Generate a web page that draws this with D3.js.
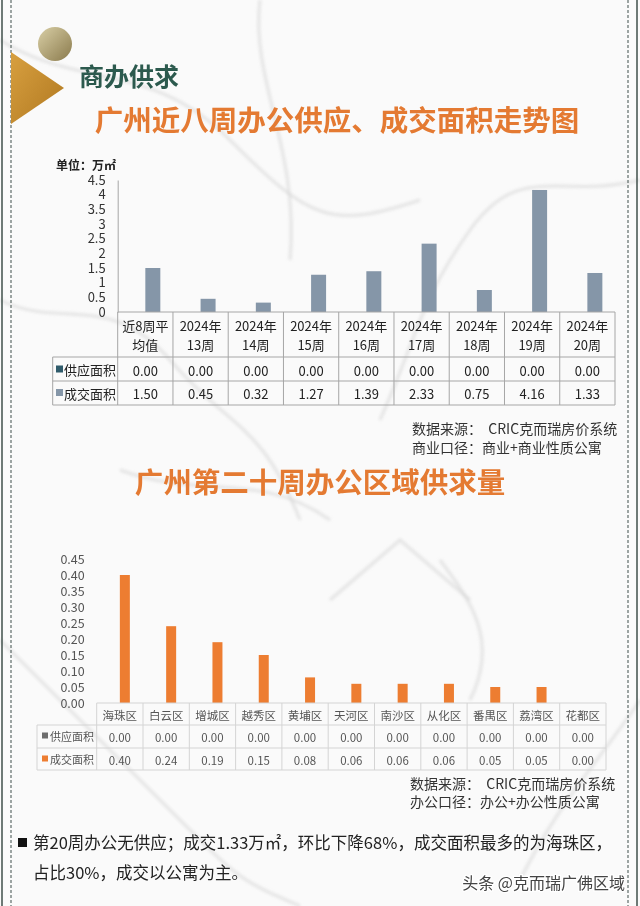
<!DOCTYPE html>
<html>
<head>
<meta charset="utf-8">
<script src="https://cdn.jsdelivr.net/npm/d3@7"></script>
<style>
  body { margin: 0; background: #fff; }
  svg { display: block; font-family: "Noto Sans CJK SC", "Noto Sans", sans-serif; }
</style>
</head>
<body>
<svg id="page" width="640" height="906"></svg>
<script>
// ---- data: weekly office supply / transaction (万㎡)
const weekLabels = [["近8周平", "均值"], ["2024年", "13周"], ["2024年", "14周"], ["2024年", "15周"],
  ["2024年", "16周"], ["2024年", "17周"], ["2024年", "18周"], ["2024年", "19周"], ["2024年", "20周"]];
const weekSupply = [0, 0, 0, 0, 0, 0, 0, 0, 0];
const weekDeal = [1.50, 0.45, 0.32, 1.27, 1.39, 2.33, 0.75, 4.16, 1.33];
const weekTicks = [0, 0.5, 1, 1.5, 2, 2.5, 3, 3.5, 4, 4.5];

// ---- data: week 20 by district (万㎡)
const districts = ["海珠区", "白云区", "增城区", "越秀区", "黄埔区", "天河区", "南沙区", "从化区", "番禺区", "荔湾区", "花都区"];
const districtSupply = [0, 0, 0, 0, 0, 0, 0, 0, 0, 0, 0];
const districtDeal = [0.40, 0.24, 0.19, 0.15, 0.08, 0.06, 0.06, 0.06, 0.05, 0.05, 0.00];
const districtTicks = [0, 0.05, 0.10, 0.15, 0.20, 0.25, 0.30, 0.35, 0.40, 0.45];

const seriesNames = ["供应面积", "成交面积"];

const svg = d3.select("#page");
const defs = svg.append("defs");

// background, a rough marble look
svg.append("rect").attr("width", 640).attr("height", 906).attr("fill", "#fafafa");
defs.append("filter").attr("id", "soft").append("feGaussianBlur").attr("stdDeviation", 1.6);
const veins = [
  "M0,40 C80,90 150,60 230,140 S330,230 420,200",
  "M260,0 C250,80 300,150 290,260",
  "M640,180 C560,200 520,160 470,230 S420,330 380,420",
  "M0,300 C60,330 110,290 170,360 S260,420 300,520",
  "M440,560 C470,600 500,640 470,700",
  "M330,600 L400,540 L470,600",
  "M0,640 C60,700 120,760 180,820 S240,880 300,906",
  "M640,700 C600,760 560,800 520,880",
  "M120,470 C200,500 260,470 330,520"
];
svg.append("g").attr("filter", "url(#soft)").selectAll("path").data(veins).join("path")
  .attr("d", d => d).attr("fill", "none")
  .attr("stroke", "#cfcfcf").attr("stroke-width", 3).attr("opacity", 0.5);

// page border
const border = svg.append("g").attr("stroke", "#3f4f4a");
border.append("line").attr("x1", 2).attr("x2", 2).attr("y1", 0).attr("y2", 906).attr("stroke-width", 1.5);
border.append("line").attr("x1", 637).attr("x2", 637).attr("y1", 0).attr("y2", 906).attr("stroke-width", 1.5);
border.append("line").attr("x1", 11).attr("x2", 11).attr("y1", 0).attr("y2", 906).attr("stroke-dasharray", "3,2");
border.append("line").attr("x1", 628).attr("x2", 628).attr("y1", 0).attr("y2", 906).attr("stroke-dasharray", "3,2");

// header decoration
const gold = defs.append("linearGradient").attr("id", "gold").attr("x1", 0).attr("y1", 0).attr("x2", 1).attr("y2", 1);
gold.append("stop").attr("offset", 0).attr("stop-color", "#d9cfa6");
gold.append("stop").attr("offset", 1).attr("stop-color", "#8a7a4c");
const tri = defs.append("linearGradient").attr("id", "tri").attr("x1", 0).attr("y1", 0).attr("x2", 1).attr("y2", 1);
tri.append("stop").attr("offset", 0).attr("stop-color", "#d8a040");
tri.append("stop").attr("offset", 1).attr("stop-color", "#b07820");
svg.append("circle").attr("cx", 55).attr("cy", 44).attr("r", 17).attr("fill", "url(#gold)");
svg.append("path").attr("d", "M11,52 L64,88 L11,124 Z").attr("fill", "url(#tri)");

svg.append("text").attr("x", 79).attr("y", 75).attr("dominant-baseline", "central")
  .attr("font-size", 25).attr("font-weight", "bold").attr("fill", "#2c5a4e").text("商办供求");

const title = (x, y, t) => svg.append("text").attr("x", x).attr("y", y).attr("text-anchor", "middle")
  .attr("dominant-baseline", "central").attr("font-size", 28.5).attr("font-weight", "bold")
  .attr("fill", "#e47a32").text(t);
title(337, 118, "广州近八周办公供应、成交面积走势图");
title(320, 480, "广州第二十周办公区域供求量");

// ================= chart 1 =================
const c1 = { left: 117.7, right: 615, top: 180, base: 312, tabLeft: 52.7, rows: [357, 381, 405] };
const x1 = d3.scaleBand().domain(d3.range(weekDeal.length)).range([c1.left, c1.right]);
const y1 = d3.scaleLinear().domain([0, 4.5]).range([c1.base, c1.top]);
const s1 = d3.scaleBand().domain(seriesNames).range([0, x1.bandwidth()]).paddingInner(0).paddingOuter(0.843);
const colors1 = { "供应面积": "#2f5b6b", "成交面积": "#8596a8" };

svg.append("text").attr("x", 56).attr("y", 164).attr("dominant-baseline", "central")
  .attr("font-size", 12).attr("font-weight", "bold").attr("fill", "#222").text("单位：万㎡");

const yAx1 = svg.append("g").attr("transform", `translate(${c1.left},0)`)
  .call(d3.axisLeft(y1).tickValues(weekTicks).tickSize(0).tickPadding(12).tickFormat(d3.format("~g")));
yAx1.select(".domain").attr("stroke", "#a6a6a6");
yAx1.selectAll("text").attr("font-size", 13).attr("fill", "#333").attr("font-family", "Noto Sans CJK SC");

const bars1 = seriesNames.map(s => ({ s, vals: s === "供应面积" ? weekSupply : weekDeal }));
svg.append("g").selectAll("g").data(bars1).join("g").attr("fill", d => colors1[d.s])
  .selectAll("rect").data(d => d.vals.map((v, i) => ({ v, i, s: d.s }))).join("rect")
  .attr("x", d => x1(d.i) + s1(d.s))
  .attr("y", d => y1(d.v))
  .attr("width", s1.bandwidth())
  .attr("height", d => c1.base - y1(d.v));

// table 1
const t1 = svg.append("g").attr("stroke", "#a6a6a6").attr("stroke-width", 1);
t1.append("line").attr("x1", c1.left).attr("x2", c1.right).attr("y1", c1.base).attr("y2", c1.base);
c1.rows.forEach(r => t1.append("line").attr("x1", c1.tabLeft).attr("x2", c1.right).attr("y1", r).attr("y2", r));
x1.domain().concat([weekDeal.length]).forEach(i => {
  const xv = i < weekDeal.length ? x1(i) : c1.right;
  t1.append("line").attr("x1", xv).attr("x2", xv).attr("y1", c1.base).attr("y2", c1.rows[2]);
});
t1.append("line").attr("x1", c1.tabLeft).attr("x2", c1.tabLeft).attr("y1", c1.rows[0]).attr("y2", c1.rows[2]);

const tx1 = svg.append("g").attr("font-size", 13).attr("fill", "#222").attr("text-anchor", "middle")
  .attr("dominant-baseline", "central");
weekLabels.forEach((lines, i) => {
  const cx = x1(i) + x1.bandwidth() / 2;
  lines.forEach((l, k) => tx1.append("text").attr("x", cx).attr("y", 325 + k * 19).text(l));
  tx1.append("text").attr("x", cx).attr("y", 370).text(weekSupply[i].toFixed(2));
  tx1.append("text").attr("x", cx).attr("y", 393.5).text(weekDeal[i].toFixed(2));
});
seriesNames.forEach((s, k) => {
  const cy = k === 0 ? 369.5 : 393;
  svg.append("rect").attr("x", 56).attr("y", cy - 4).attr("width", 7).attr("height", 7).attr("fill", colors1[s]);
  svg.append("text").attr("x", 64).attr("y", cy).attr("dominant-baseline", "central")
    .attr("font-size", 13).attr("fill", "#222").text(s);
});

const src = (x, y, t) => svg.append("text").attr("x", x).attr("y", y).attr("dominant-baseline", "central")
  .attr("font-size", 14).attr("fill", "#333").attr("xml:space", "preserve").text(t);
src(412, 428, "数据来源：  CRIC克而瑞房价系统");
src(412, 447, "商业口径：商业+商业性质公寓");

// ================= chart 2 =================
const c2 = { left: 96.7, right: 606, top: 559, base: 703, tabLeft: 37, rows: [725, 748, 770] };
const x2 = d3.scaleBand().domain(d3.range(districtDeal.length)).range([c2.left, c2.right]);
const y2 = d3.scaleLinear().domain([0, 0.45]).range([c2.base, c2.top]);
const s2 = d3.scaleBand().domain(seriesNames).range([0, x2.bandwidth()]).paddingInner(0).paddingOuter(1.315);
const colors2 = { "供应面积": "#6e6e6e", "成交面积": "#ed7d31" };

const yAx2 = svg.append("g").attr("transform", `translate(${c2.left},0)`)
  .call(d3.axisLeft(y2).tickValues(districtTicks).tickSize(0).tickPadding(12).tickFormat(d3.format(".2f")));
yAx2.select(".domain").remove();
yAx2.selectAll("text").attr("font-size", 12.5).attr("fill", "#555").attr("font-family", "Noto Sans CJK SC");

const bars2 = seriesNames.map(s => ({ s, vals: s === "供应面积" ? districtSupply : districtDeal }));
svg.append("g").selectAll("g").data(bars2).join("g").attr("fill", d => colors2[d.s])
  .selectAll("rect").data(d => d.vals.map((v, i) => ({ v, i, s: d.s }))).join("rect")
  .attr("x", d => x2(d.i) + s2(d.s))
  .attr("y", d => y2(d.v))
  .attr("width", s2.bandwidth())
  .attr("height", d => c2.base - y2(d.v));

// table 2
const t2 = svg.append("g").attr("stroke", "#d4d4d4").attr("stroke-width", 1);
t2.append("line").attr("x1", c2.left).attr("x2", c2.right).attr("y1", c2.base).attr("y2", c2.base);
c2.rows.forEach(r => t2.append("line").attr("x1", c2.tabLeft).attr("x2", c2.right).attr("y1", r).attr("y2", r));
x2.domain().concat([districtDeal.length]).forEach(i => {
  const xv = i < districtDeal.length ? x2(i) : c2.right;
  t2.append("line").attr("x1", xv).attr("x2", xv).attr("y1", c2.base).attr("y2", c2.rows[2]);
});
t2.append("line").attr("x1", c2.tabLeft).attr("x2", c2.tabLeft).attr("y1", c2.rows[0]).attr("y2", c2.rows[2]);

const tx2 = svg.append("g").attr("font-size", 11.5).attr("fill", "#555").attr("text-anchor", "middle")
  .attr("dominant-baseline", "central");
districts.forEach((d, i) => {
  const cx = x2(i) + x2.bandwidth() / 2;
  tx2.append("text").attr("x", cx).attr("y", 715).text(d);
  tx2.append("text").attr("x", cx).attr("y", 737).text(districtSupply[i].toFixed(2));
  tx2.append("text").attr("x", cx).attr("y", 760).text(districtDeal[i].toFixed(2));
});
seriesNames.forEach((s, k) => {
  const cy = k === 0 ? 736 : 759;
  svg.append("rect").attr("x", 42).attr("y", cy - 3.5).attr("width", 6).attr("height", 6).attr("fill", colors2[s]);
  svg.append("text").attr("x", 50).attr("y", cy).attr("dominant-baseline", "central")
    .attr("font-size", 11).attr("fill", "#555").text(s);
});

src(410, 783, "数据来源：  CRIC克而瑞房价系统");
src(410, 801, "办公口径：办公+办公性质公寓");

// ================= notes =================
svg.append("rect").attr("x", 18).attr("y", 838).attr("width", 9).attr("height", 9).attr("fill", "#111");
const note = (y, t) => svg.append("text").attr("x", 33).attr("y", y).attr("dominant-baseline", "central")
  .attr("font-size", 16.5).attr("fill", "#222").text(t);
note(842, "第20周办公无供应；成交1.33万㎡，环比下降68%，成交面积最多的为海珠区，");
note(872, "占比30%，成交以公寓为主。");

svg.append("text").attr("x", 625).attr("y", 882).attr("text-anchor", "end").attr("dominant-baseline", "central")
  .attr("font-size", 16).attr("fill", "#444").attr("stroke", "#fff").attr("stroke-width", 2.5)
  .attr("paint-order", "stroke").text("头条 @克而瑞广佛区域");
</script>
</body>
</html>
